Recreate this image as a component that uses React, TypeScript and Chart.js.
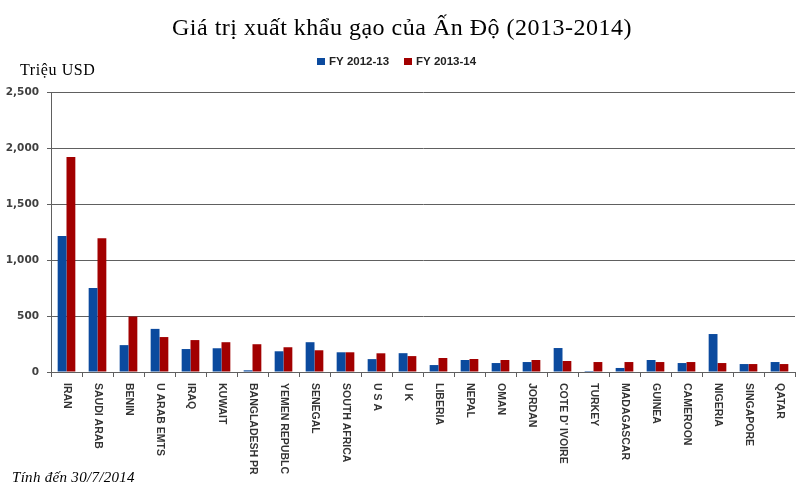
import React, { useEffect, useRef } from "react";
import { Chart, registerables } from "chart.js";

Chart.register(...registerables);

const chartTitle = "Giá trị xuất khẩu gạo của Ấn Độ (2013-2014)";
const unitLabel = "Triệu USD";
const footNote = "Tính đến 30/7/2014";

const categories = [
  "IRAN", "SAUDI ARAB", "BENIN", "U ARAB EMTS", "IRAQ", "KUWAIT", "BANGLADESH PR",
  "YEMEN REPUBLC", "SENEGAL", "SOUTH AFRICA", "U S A", "U K", "LIBERIA", "NEPAL",
  "OMAN", "JORDAN", "COTE D' IVOIRE", "TURKEY", "MADAGASCAR", "GUINEA", "CAMEROON",
  "NIGERIA", "SINGAPORE", "QATAR",
];

const fy1213 = [1215, 750, 240, 385, 205, 212, 15, 185, 266, 176, 115, 168, 62, 107, 80, 89, 214, 9, 36, 107, 80, 339, 71, 89];
const fy1314 = [1920, 1195, 495, 312, 285, 266, 248, 221, 194, 176, 167, 142, 125, 116, 107, 107, 98, 89, 89, 89, 89, 80, 71, 71];

const seriesLabels = ["FY 2012-13", "FY 2013-14"];
const seriesColors = ["#0b4a9e", "#a20000"];

const yTicks = [0, 500, 1000, 1500, 2000, 2500];

const decorPlugin = {
  id: "decor",
  beforeDraw(chart: any) {
    const ctx = chart.ctx;
    ctx.save();
    ctx.fillStyle = "#ffffff";
    ctx.fillRect(0, 0, chart.width, chart.height);
    ctx.restore();
  },
  afterDraw(chart: any) {
    const ctx = chart.ctx;
    ctx.save();
    // title
    ctx.fillStyle = "#000000";
    ctx.font = '24px "Liberation Serif", serif';
    (ctx as any).letterSpacing = "0.5px";
    ctx.textAlign = "left";
    ctx.textBaseline = "alphabetic";
    ctx.fillText(chartTitle, 172, 35);
    // unit label
    ctx.font = '16px "Liberation Serif", serif';
    (ctx as any).letterSpacing = "0.6px";
    ctx.fillText(unitLabel, 20, 75);
    (ctx as any).letterSpacing = "0px";
    // legend
    ctx.font = 'bold 11.5px "Liberation Sans", sans-serif';
    ctx.textBaseline = "middle";
    const legendX = [317, 404];
    chart.data.datasets.forEach((ds: any, i: number) => {
      ctx.fillStyle = ds.backgroundColor;
      ctx.fillRect(legendX[i], 58, 8, 7);
      ctx.fillStyle = "#222222";
      ctx.fillText(ds.label, legendX[i] + 12, 62);
    });
    // x labels rotated clockwise
    const xs = chart.scales.x;
    ctx.font = 'bold 10.5px "Liberation Sans", sans-serif';
    ctx.fillStyle = "#333333";
    ctx.textAlign = "left";
    ctx.textBaseline = "middle";
    chart.data.labels.forEach((lab: string, i: number) => {
      const x = xs.getPixelForValue(i);
      ctx.save();
      ctx.translate(x, 383);
      ctx.rotate(Math.PI / 2);
      ctx.fillText(lab, 0, 0);
      ctx.restore();
    });
    // footnote
    ctx.fillStyle = "#000000";
    ctx.font = 'italic 15px "Liberation Serif", serif';
    (ctx as any).letterSpacing = "0.3px";
    ctx.textAlign = "left";
    ctx.textBaseline = "alphabetic";
    ctx.fillText(footNote, 12, 482);
    (ctx as any).letterSpacing = "0px";
    ctx.restore();
  },
};

export default function App() {
  const ref = useRef<HTMLCanvasElement>(null);
  useEffect(() => {
    if (!ref.current) return;
    const chart = new Chart(ref.current, {
      type: "bar",
      data: {
        labels: categories,
        datasets: [
          { label: seriesLabels[0], data: fy1213, backgroundColor: seriesColors[0], borderWidth: 0 },
          { label: seriesLabels[1], data: fy1314, backgroundColor: seriesColors[1], borderWidth: 0 },
        ],
      },
      options: {
        responsive: false,
        animation: false,
        layout: { padding: { top: 92, left: 0, right: 7, bottom: 0 } },
        datasets: { bar: { categoryPercentage: 0.57, barPercentage: 1.0 } },
        plugins: {
          legend: { display: false },
          title: { display: false },
          tooltip: { enabled: false },
        },
        scales: {
          x: {
            offset: true,
            grid: { display: true, offset: true, drawOnChartArea: false, tickLength: 5, color: "#606060" },
            border: { display: true, color: "#606060" },
            ticks: { display: false },
            afterFit(scale: any) {
              scale.height = 121;
            },
          },
          y: {
            min: 0,
            max: 2500,
            afterBuildTicks(scale: any) {
              scale.ticks = yTicks.map((v) => ({ value: v }));
            },
            grid: { color: "#606060", tickLength: 4, lineWidth: 1 },
            border: { display: true, color: "#606060" },
            ticks: {
              padding: 8,
              color: "#404040",
              font: { family: '"DejaVu Sans", sans-serif', size: 10.5, weight: "bold" },
              callback: (v: any) => Number(v).toLocaleString("en-US"),
            },
            afterFit(scale: any) {
              scale.width = 51;
            },
          },
        },
      },
      plugins: [decorPlugin],
    });
    return () => chart.destroy();
  }, []);
  return (
    <div style={{ position: "fixed", left: 0, top: 0, width: 802, height: 493 }}>
      <canvas ref={ref} width={802} height={493} style={{ display: "block" }} />
    </div>
  );
}
